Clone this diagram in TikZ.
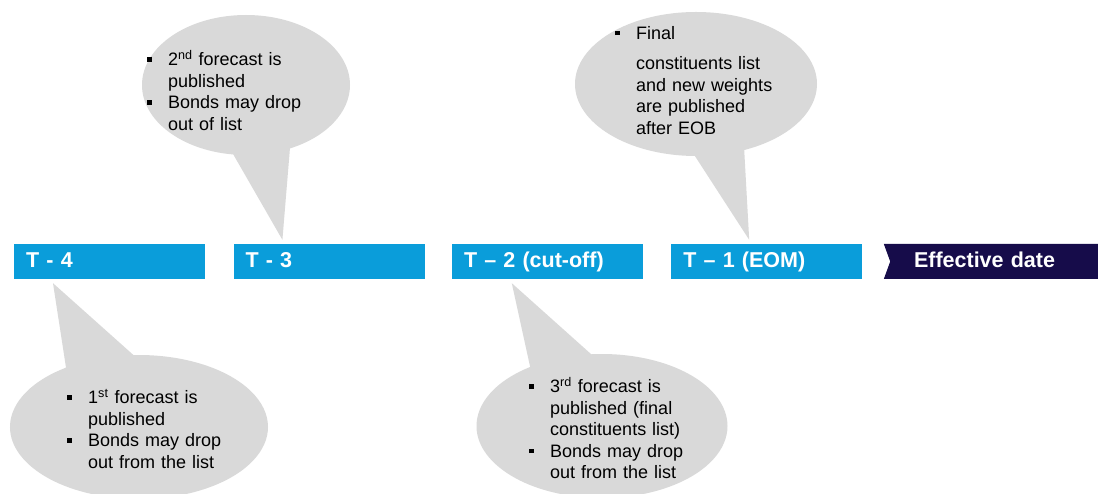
\documentclass[tikz,border=0pt]{standalone}
\usepackage{fontspec}
\setmainfont{Liberation Sans}
\usetikzlibrary{shapes.callouts,shapes.symbols,positioning,calc}
\definecolor{stepblue}{RGB}{10,157,218}
\definecolor{effnavy}{RGB}{22,12,74}
\definecolor{bubblegray}{RGB}{217,217,217}
\newcommand{\blt}[1]{\hangindent=21pt\hangafter=1\noindent\makebox[21pt][l]{\rule[4pt]{4.5pt}{4.5pt}}#1\par}

\begin{document}
\begin{tikzpicture}[x=1pt,y=-1pt,
    stepbox/.style={fill=stepblue,text=white,font=\bfseries\fontsize{21.5}{25}\selectfont,
        minimum width=191pt,minimum height=35pt,inner xsep=12pt,text width=167pt,align=left,
        text height=17pt,text depth=4pt},
    effbox/.style={signal,signal from=west,signal to=nowhere,signal pointer angle=140,
        fill=effnavy,text=white,font=\bfseries\fontsize{21.5}{25}\selectfont,
        minimum width=224pt,minimum height=35pt,inner xsep=0pt,text width=170pt,align=left,
        text height=17pt,text depth=4pt},
    bubble/.style={ellipse callout,fill=bubblegray,inner sep=0pt},
    note/.style={anchor=north west,inner sep=0pt,text width=200pt,align=left,
        font=\fontsize{18}{21.5}\selectfont}]
        \clip (0,0) rectangle (1098,494);
        \fill[white] (0,0) rectangle (1098,494);
        \node[stepbox,anchor=west] (t4) at (14,261.5) {T - 4};
        \node[stepbox,right=28pt of t4] (t3) {T - 3};
        \node[stepbox,right=27pt of t3] (t2) {T -- 2 (cut-off)};
        \node[stepbox,right=28pt of t2] (t1) {T -- 1 (EOM)};
        \node[effbox,anchor=west] (eff) at (890,261.5) {Effective date};

        \node[bubble,minimum width=208pt,minimum height=140pt,callout pointer arc=32,
            callout absolute pointer={($(t3.north west)+(49,-4)$)}] (b3) at (246,85) {};
        \node[bubble,minimum width=242pt,minimum height=144pt,callout pointer arc=24,
            callout absolute pointer={($(t1.north west)+(78,-4)$)}] (b1) at (696,84) {};
        \node[bubble,minimum width=258pt,minimum height=144pt,callout pointer arc=32,
            callout absolute pointer={($(t4.south west)+(39,4)$)}] (b4) at (139,427) {};
        \node[bubble,minimum width=251pt,minimum height=144pt,callout pointer arc=30,
            callout absolute pointer={($(t2.south west)+(60,4)$)}] (b2) at (602,426) {};

        \node[note] (n3) at (147,50) {\blt{2\textsuperscript{nd} forecast is\newline published}\blt{Bonds may drop\newline out of list}};
        \node[note] (n1) at (615,26) {\blt{Final}\vspace{9pt}\hangindent=21pt\hangafter=0\noindent constituents list\newline and new weights\newline are published\newline after EOB\par};
        \node[note] (n4) at (67,389) {\blt{1\textsuperscript{st} forecast is\newline published}\blt{Bonds may drop\newline out from the list}};
        \node[note] (n2) at (529,377) {\blt{3\textsuperscript{rd} forecast is\newline published (final\newline constituents list)}\blt{Bonds may drop\newline out from the list}};
    \end{tikzpicture}
\end{document}
